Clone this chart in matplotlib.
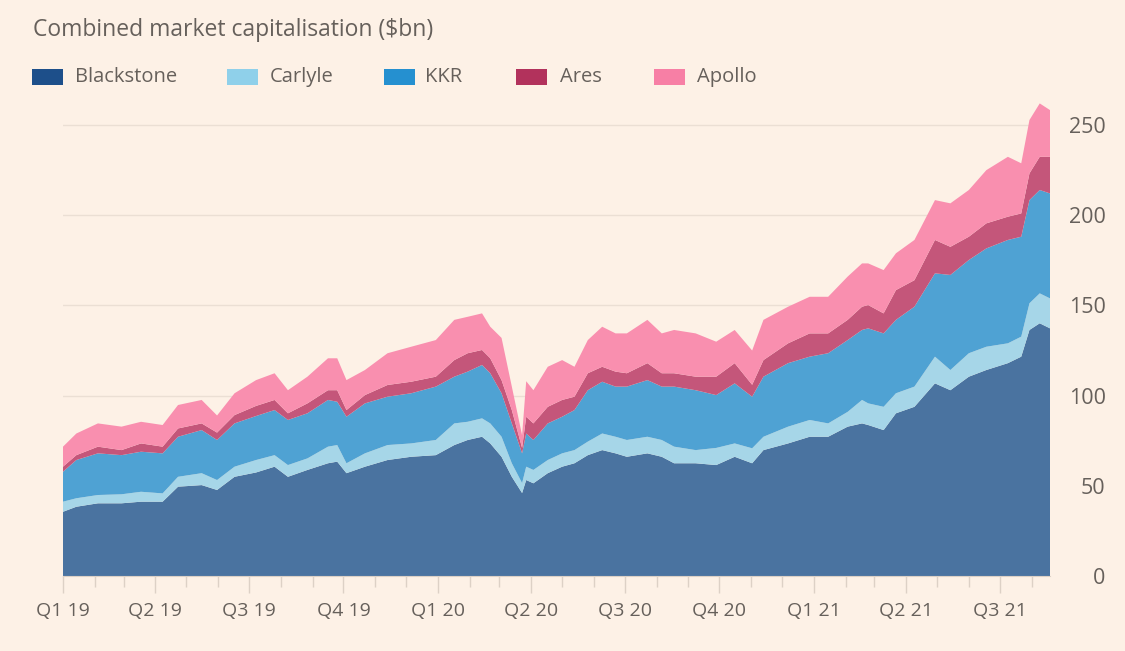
#!/usr/bin/env python3
"""Combined market capitalisation of the listed private equity groups, stacked area."""
from __future__ import annotations

import matplotlib
matplotlib.use("Agg")
import matplotlib.dates as mdates
import matplotlib.pyplot as plt
import numpy as np
import pandas as pd
from matplotlib.patches import Rectangle

# values ($bn), one sample every ~2-3 weeks
dates = [
    "2019-01-01", "2019-01-14", "2019-02-04", "2019-02-27", "2019-03-18", "2019-04-08",
    "2019-04-23", "2019-05-16", "2019-05-31", "2019-06-17", "2019-07-08", "2019-07-26",
    "2019-08-08", "2019-08-27", "2019-09-16", "2019-09-25", "2019-10-04", "2019-10-22",
    "2019-11-13", "2019-12-06", "2019-12-30",
    "2020-01-17", "2020-01-30", "2020-02-13", "2020-02-21", "2020-03-03", "2020-03-13",
    "2020-03-23", "2020-03-27", "2020-04-03", "2020-04-17", "2020-05-01", "2020-05-13",
    "2020-05-26", "2020-06-09", "2020-06-22", "2020-07-03", "2020-07-23", "2020-08-06",
    "2020-08-18", "2020-09-08", "2020-09-28", "2020-10-16", "2020-11-02", "2020-11-13",
    "2020-12-07", "2020-12-28",
    "2021-01-15", "2021-02-03", "2021-02-17", "2021-02-23", "2021-03-10", "2021-03-22",
    "2021-04-09", "2021-04-29", "2021-05-14", "2021-06-01", "2021-06-18", "2021-07-09",
    "2021-07-22", "2021-07-30", "2021-08-09", "2021-08-19",
]
blackstone = [35.6, 38.4, 40.3, 40.3, 41.2, 41.2, 49.5, 50.4, 47.7, 55.0, 57.4, 60.6,
              55.0, 58.8, 62.5, 63.4, 57.0, 60.6, 64.3, 66.1, 67.0,
              72.6, 75.4, 77.2, 73.5, 66.1, 55.0, 46.0, 53.2, 51.4, 57.0, 60.6, 62.5,
              67.0, 69.8, 68.0, 66.1, 68.0, 66.1, 62.5, 62.5, 61.5, 66.1, 62.5, 69.8,
              73.5, 77.2,
              77.2, 82.8, 84.6, 83.7, 80.9, 90.2, 93.8, 106.8, 103.0, 110.5, 114.2, 118.0,
              121.6, 136.4, 140.1, 137.3]
carlyle = [5.6, 4.7, 4.6, 5.0, 5.5, 4.6, 5.5, 6.6, 5.5, 5.6, 6.9, 6.4,
           6.5, 6.4, 9.2, 9.2, 5.5, 7.4, 8.3, 7.4, 8.4,
           12.0, 10.1, 10.2, 11.1, 11.1, 7.5, 5.5, 7.4, 7.4, 7.3, 7.4, 7.3,
           7.5, 9.2, 9.2, 9.3, 9.2, 9.3, 9.2, 7.3, 9.5, 7.4, 8.3, 7.4,
           9.3, 9.3,
           7.4, 8.2, 13.0, 12.0, 12.9, 11.1, 11.2, 14.8, 11.2, 13.0, 12.9, 11.0,
           11.1, 14.8, 16.6, 16.6]
kkr = [16.6, 21.2, 23.1, 21.7, 22.2, 22.2, 22.2, 23.9, 22.2, 24.0, 24.4, 25.0,
       25.0, 25.0, 25.9, 24.0, 25.8, 27.7, 26.8, 27.8, 29.6,
       25.9, 27.8, 29.6, 27.8, 24.1, 22.1, 16.5, 18.4, 16.6, 20.3, 20.3, 22.2,
       28.5, 28.7, 27.8, 29.6, 31.4, 29.6, 33.3, 33.2, 29.3, 33.3, 28.6, 33.3,
       35.2, 35.1,
       38.9, 39.8, 38.8, 41.6, 40.7, 40.7, 44.3, 46.2, 52.7, 51.7, 54.5, 57.3,
       55.4, 57.2, 57.3, 58.2]
ares = [2.8, 2.7, 3.7, 2.8, 4.6, 3.7, 4.6, 3.7, 4.1, 4.6, 5.6, 5.6,
        3.7, 5.5, 5.4, 6.4, 3.7, 4.6, 6.5, 6.4, 5.5,
        9.2, 10.2, 8.3, 8.3, 7.3, 7.4, 3.0, 9.3, 9.2, 9.2, 9.3, 7.4,
        9.4, 8.3, 8.3, 7.4, 9.4, 7.4, 7.4, 7.5, 10.2, 11.2, 6.6, 9.2,
        11.0, 12.9,
        11.0, 11.2, 12.9, 12.9, 11.1, 16.5, 14.7, 18.5, 15.6, 12.9, 13.9, 12.9,
        12.9, 14.8, 18.4, 20.3]
apollo = [11.1, 12.0, 12.9, 13.0, 12.0, 12.0, 13.0, 13.0, 9.5, 12.1, 14.3, 14.8,
          12.8, 14.8, 17.7, 17.7, 16.6, 13.9, 17.6, 19.4, 20.3,
          22.3, 20.2, 20.3, 17.5, 23.4, 13.0, 7.0, 19.7, 18.4, 22.2, 22.1, 16.6,
          18.4, 22.2, 21.2, 22.1, 24.0, 22.1, 24.0, 24.0, 19.4, 18.4, 19.0, 22.3,
          20.3, 20.3,
          20.3, 24.0, 24.0, 23.1, 24.0, 20.4, 22.3, 22.1, 24.1, 25.9, 29.5, 33.2,
          27.8, 29.6, 29.6, 25.9]

names = ["Blackstone", "Carlyle", "KKR", "Ares", "Apollo"]
swatch_colours = ["#1d4f8a", "#8fd0ea", "#2590d0", "#b2325c", "#f77fa5"]
area_colours = ["#4a73a0", "#a6d6e8", "#4fa2d3", "#c4567a", "#f98faf"]

BG = "#fdf1e6"
TEXT = "#66605b"
GRID = "#ebdfd4"
TICK = "#ddd1c6"
FONT = "Open Sans"


def main() -> None:
    x = pd.to_datetime(dates)
    fig = plt.figure(figsize=(11.25, 6.51), dpi=100, facecolor=BG)
    ax = fig.add_axes([63 / 1125, 75 / 651, 987 / 1125, 478 / 651], facecolor=BG)

    ax.stackplot(x, blackstone, carlyle, kkr, ares, apollo,
                 colors=area_colours, linewidth=0, zorder=2)

    ax.set_ylim(0, 265)
    ax.set_xlim(x[0], x[-1])
    ax.set_yticks(np.arange(0, 251, 50))
    ax.yaxis.tick_right()
    ax.tick_params(axis="y", length=0, pad=40, labelsize=15.5, labelcolor=TEXT)
    for lab in ax.get_yticklabels():
        lab.set_ha("right")
        lab.set_fontfamily(FONT)
    for v in range(50, 251, 50):
        ax.axhline(v, color=GRID, lw=1, zorder=1)

    ax.xaxis.set_major_locator(mdates.MonthLocator(bymonth=[1, 4, 7, 10]))
    ax.xaxis.set_minor_locator(mdates.MonthLocator())
    quarters = mdates.num2date(ax.xaxis.get_majorticklocs())
    ax.set_xticks(ax.get_xticks())
    ax.set_xticklabels([f"Q{(d.month - 1) // 3 + 1} {d.year % 100:02d}" for d in quarters],
                       fontfamily=FONT)
    ax.tick_params(axis="x", which="major", length=12, width=1, color=TICK,
                   pad=7, labelsize=14, labelcolor=TEXT)
    ax.tick_params(axis="x", which="minor", length=8, width=1, color=TICK)

    for side in ("top", "left", "right"):
        ax.spines[side].set_visible(False)
    ax.spines["bottom"].set_color(TICK)

    fig.text(33 / 1125, 1 - 30 / 651, "Combined market capitalisation ($bn)",
             fontsize=16.5, color=TEXT, family=FONT, va="center", ha="left")

    swatch_x = [32, 227, 384, 516, 654]
    label_x = [75, 270, 425, 560, 697]
    for name, col, sx, lx in zip(names, swatch_colours, swatch_x, label_x):
        fig.patches.append(Rectangle((sx / 1125, 1 - 85 / 651), 31 / 1125, 16 / 651,
                                     transform=fig.transFigure, facecolor=col,
                                     edgecolor="none"))
        fig.text(lx / 1125, 1 - 77 / 651, name, fontsize=14.5, color=TEXT, family=FONT,
                 va="center", ha="left")

    fig.savefig("out.png", dpi=100, facecolor=BG)


if __name__ == "__main__":
    main()
